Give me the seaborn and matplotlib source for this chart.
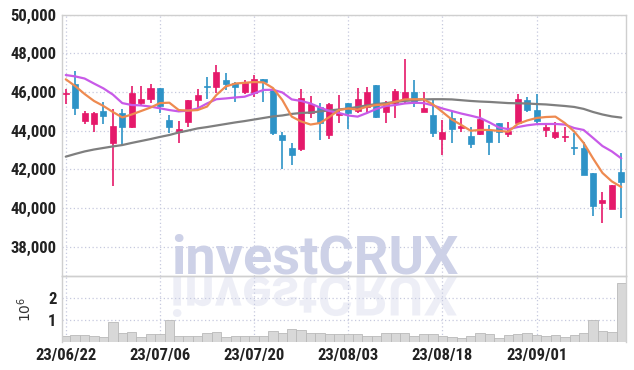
import numpy as np
import pandas as pd
import matplotlib
matplotlib.use("Agg")
import matplotlib.pyplot as plt
import seaborn as sns
from matplotlib.textpath import TextPath
from matplotlib.patches import PathPatch
from matplotlib.font_manager import FontProperties
from matplotlib.transforms import Affine2D

# trading days 2023-06-22 .. 2023-09-14 (8/15 is a holiday)
days = pd.bdate_range("2023-06-22", "2023-09-14")
days = days[days != pd.Timestamp("2023-08-15")]

opens = [45900, 46410, 44510, 44350, 45010, 43370, 44920, 44200, 45440, 45620,
         46200, 44550, 43910, 44460, 45580, 46300, 46270, 46610, 46470, 46010,
         45960, 46650, 46100, 43760, 43100, 43060, 44890, 45200, 43790, 44790,
         45410, 45030, 45200, 46360, 44980, 45440, 45580, 45980, 44980, 44800,
         43550, 44630, 44150, 43720, 43810, 44030, 44380, 43810, 44380, 45580,
         45060, 44030, 43650, 43650, 43150, 43080, 41790, 40270, 39940, 41860]
highs = [46150, 47080, 45000, 44950, 45480, 45130, 45130, 46300, 46300, 46410,
         46220, 44790, 44480, 45600, 46130, 46750, 47400, 46960, 46500, 46610,
         46870, 46680, 46200, 43940, 43340, 46130, 45790, 45440, 45400, 45840,
         45430, 46190, 46270, 46380, 45540, 46130, 47680, 46610, 46010, 45580,
         44550, 44980, 44630, 44200, 45100, 44290, 44400, 44460, 45870, 45720,
         45870, 44380, 44460, 44200, 43860, 43420, 41800, 40840, 41200, 42820]
lows = [45370, 44800, 44340, 43920, 44340, 41130, 43250, 44120, 45320, 45410,
        44910, 43860, 43340, 44170, 45060, 45620, 45930, 46100, 45490, 45870,
        45750, 45460, 43770, 42000, 42220, 42960, 44630, 43510, 43550, 44410,
        44070, 44890, 44890, 44630, 44410, 44630, 45440, 45230, 44950, 43650,
        42740, 43340, 43940, 43080, 43780, 42740, 43340, 43680, 44350, 44940,
        44380, 43650, 43550, 43420, 42740, 41680, 39580, 39240, 39930, 39500]
closes = [45950, 45180, 44920, 44920, 44770, 44240, 44200, 45960, 45630, 46200,
          45270, 44200, 44080, 45580, 45840, 46240, 47010, 46410, 46240, 46470,
          46650, 46500, 43890, 43510, 42740, 45670, 45370, 44380, 45370, 44920,
          44920, 45620, 45980, 44720, 45440, 46060, 45980, 45440, 45150, 43890,
          43940, 44100, 44240, 43310, 44600, 43420, 43940, 43980, 45620, 45060,
          44510, 44170, 43910, 43720, 43100, 41700, 40120, 40410, 41190, 41340]
ma5 = [46650, 46300, 45890, 45530, 45270, 44960, 44680, 44830, 45010, 45190,
       45420, 45440, 45060, 45030, 45060, 45240, 45840, 46280, 46430, 46470,
       46510, 46490, 46200, 45580, 44720, 44470, 44310, 44390, 44700, 45060,
       45140, 45080, 45240, 45320, 45350, 45490, 45610, 45620, 45620, 45350,
       44960, 44570, 44290, 43990, 44030, 44030, 43980, 43940, 44340, 44520,
       44650, 44700, 44720, 44390, 43950, 43360, 42560, 41810, 41370, 41080]
ma20 = [46870, 46800, 46690, 46430, 46180, 45860, 45420, 45320, 45300, 45240,
        45150, 45060, 44990, 45030, 45140, 45400, 45620, 45660, 45710, 45750,
        45920, 46100, 46110, 45970, 45610, 45530, 45400, 45190, 45010, 44910,
        44780, 44720, 44910, 45120, 45270, 45320, 45400, 45440, 45420, 45300,
        45140, 45010, 44880, 44770, 44650, 44420, 44160, 44070, 44180, 44270,
        44330, 44340, 44340, 44310, 44130, 44030, 43620, 43200, 42920, 42560]
ma60 = [42650, 42790, 42920, 43020, 43100, 43180, 43250, 43360, 43460, 43560,
        43670, 43770, 43900, 44000, 44110, 44180, 44260, 44340, 44420, 44490,
        44570, 44650, 44730, 44780, 44860, 44910, 44930, 44990, 45040, 45090,
        45140, 45220, 45300, 45370, 45420, 45480, 45530, 45570, 45610, 45620,
        45620, 45610, 45570, 45530, 45500, 45480, 45450, 45420, 45410, 45400,
        45370, 45350, 45310, 45270, 45220, 45120, 44960, 44830, 44730, 44670]
volumes = [280000, 330000, 330000, 280000, 230000, 930000, 420000, 460000, 230000, 360000,
           360000, 1020000, 280000, 280000, 280000, 410000, 450000, 230000, 280000, 280000,
           280000, 280000, 510000, 410000, 580000, 540000, 410000, 410000, 360000, 360000,
           360000, 360000, 280000, 280000, 420000, 420000, 420000, 280000, 360000, 360000,
           280000, 230000, 190000, 280000, 420000, 360000, 190000, 320000, 360000, 420000,
           320000, 280000, 320000, 230000, 320000, 410000, 990000, 510000, 460000, 2670000]

df = pd.DataFrame({"idx": np.arange(len(days)), "open": opens, "high": highs,
                   "low": lows, "close": closes, "ma5": ma5, "ma20": ma20,
                   "ma60": ma60, "volume": volumes})

up_col = "#e5196a"
down_col = "#2e93c7"
grid_col = "#c6c9de"
spine_col = "#cfcfcf"
wm_col = "#cdd1e7"
font = ["Roboto Condensed", "Roboto", "DejaVu Sans"]
wm_font = ["Roboto", "DejaVu Sans"]

sns.set_theme(style="white")
plt.rcParams["font.family"] = font

fig = plt.figure(figsize=(6.34, 3.70), dpi=100)
ax = fig.add_axes([62 / 634, 1 - 276 / 370, 564 / 634, 261.5 / 370])
axv = fig.add_axes([62 / 634, 1 - 342 / 370, 564 / 634, 66 / 370], sharex=ax)

# watermark with reflection
fig.text(315 / 634, 1 - 274 / 370, "investCRUX", fontsize=39, fontweight="bold",
         color=wm_col, ha="center", va="baseline", family=wm_font, zorder=0)
fp = FontProperties(family=wm_font, weight="bold")
tp = TextPath((0, 0), "investCRUX", size=39, prop=fp)
bb = tp.get_extents()
tr = (Affine2D().translate(-(bb.x0 + bb.x1) / 2, 0).scale(1, -1)
      .scale(100 / 72).translate(315, 370 - 277))
fig.patches.append(PathPatch(tp, transform=tr, facecolor=wm_col, edgecolor="none",
                             alpha=0.35, zorder=0))
ax.set_facecolor("none")
axv.set_facecolor("none")

# candles
for r in df.itertuples():
    c = up_col if r.close >= r.open else down_col
    ax.vlines(r.idx, r.low, r.high, color=c, lw=1.2, zorder=3)
    h = max(abs(r.close - r.open), 60)
    ax.bar(r.idx, h, bottom=min(r.open, r.close) - (h - abs(r.close - r.open)) / 2,
           width=0.64, color=c, edgecolor=c, lw=0.5, zorder=4)

sns.lineplot(data=df, x="idx", y="ma60", color="#7f7f7f", lw=1.6, ax=ax, zorder=5)
sns.lineplot(data=df, x="idx", y="ma20", color="#c85ae8", lw=1.6, ax=ax, zorder=5)
sns.lineplot(data=df, x="idx", y="ma5", color="#ee8a50", lw=1.6, ax=ax, zorder=5)

ax.set_ylim(36480, 50000)
ax.set_xlim(-0.4, 59.5)
ax.set_yticks(range(38000, 50001, 2000))
ax.set_yticklabels([f"{v:,}" for v in range(38000, 50001, 2000)])
ax.set_xlabel("")
ax.set_ylabel("")

# volume
sns.barplot(data=df, x="idx", y="volume", native_scale=True, width=1.0,
            color="#d8d8d8", edgecolor="#b9b9b9", linewidth=0.6, saturation=1,
            ax=axv, zorder=2)
axv.set_ylim(0, 3.0e6)
axv.set_yticks([1e6, 2e6])
axv.set_yticklabels(["1", "2"])
axv.set_ylabel("$10^6$", fontsize=10, color="#333333", labelpad=10, family="DejaVu Sans")
axv.set_xlabel("")
tick_pos = list(range(0, 60, 10))
axv.set_xticks(tick_pos)
axv.set_xticklabels([days[i].strftime("%y/%m/%d") for i in tick_pos])
axv.set_xlim(-0.4, 59.5)

for a in (ax, axv):
    a.grid(True, color=grid_col, ls=(0, (1, 2)), lw=0.9)
    a.set_axisbelow(True)
    a.tick_params(length=0, labelsize=12, colors="#222222", pad=4)
    for lab in a.get_yticklabels() + a.get_xticklabels():
        lab.set_fontweight("bold")
    for s in a.spines.values():
        s.set_color(spine_col)
        s.set_linewidth(1.0)
ax.tick_params(labelbottom=False)
axv.spines["bottom"].set_visible(False)

fig.savefig("out.png", dpi=100)
